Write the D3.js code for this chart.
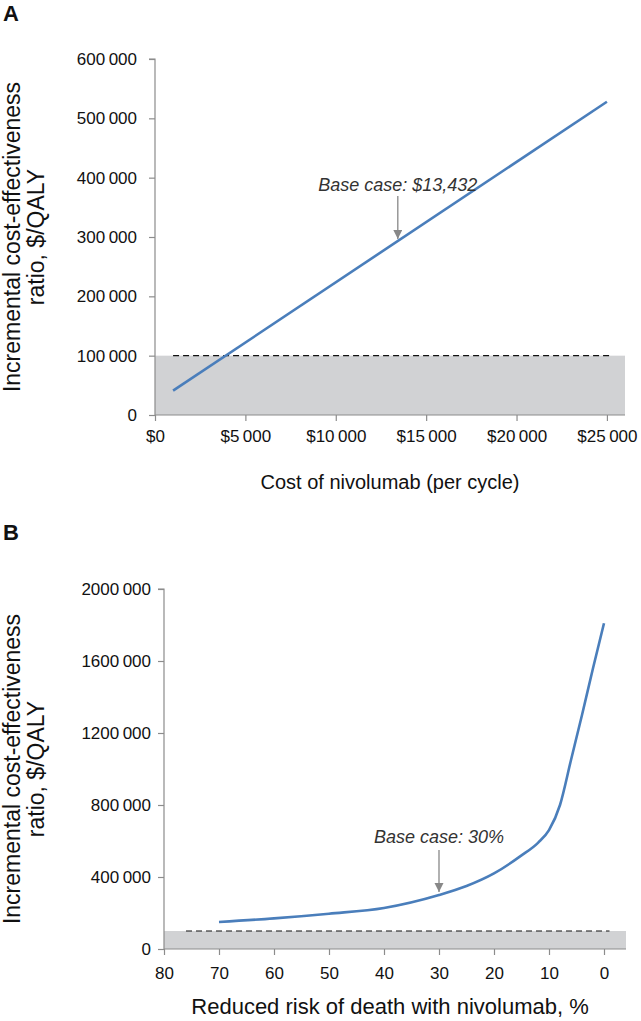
<!DOCTYPE html>
<html><head><meta charset="utf-8">
<script src="https://cdn.jsdelivr.net/npm/d3@7"></script>
<style>
body{margin:0;background:#fff}
svg{display:block;font-family:"Liberation Sans",Arial,sans-serif}
</style></head>
<body><svg id="c" width="641" height="1021"></svg>
<script>
// Panel A data
const costA = [1000, 25000];
const icerA = [41000, 528000];
const xTicksA = [0, 5000, 10000, 15000, 20000, 25000];
const yTicksA = [0, 100000, 200000, 300000, 400000, 500000, 600000];
const thresholdA = 100000;
const baseCaseA = 13432;
const baseLabelA = "Base case: $13,432";

// Panel B data
const riskB = [70, 60, 50, 40, 30, 25, 20, 15, 12, 10, 8, 6, 4, 2, 0];
const icerB = [150000, 170000, 196000, 228000, 300000, 350000, 420000, 520000, 590000, 660000, 800000, 1050000, 1300000, 1560000, 1810000];
const xTicksB = [80, 70, 60, 50, 40, 30, 20, 10, 0];
const yTicksB = [0, 400000, 800000, 1200000, 1600000, 2000000];
const thresholdB = 100000;
const baseCaseB = 30;
const baseLabelB = "Base case: 30%";

const svg = d3.select("#c");
const blue = "#4a7ebb", axisCol = "#8c8c8c", band = "#d1d2d4";

function fmtNum(v){
  if (v === 0) return "0";
  const s = String(v);
  return s.slice(0, s.length-3) + "\u2009" + s.slice(-3);
}

function panel(o){
  const g = svg.append("g");
  const x = d3.scaleLinear().domain(o.xDom).range(o.xRange);
  const y = d3.scaleLinear().domain(o.yDom).range(o.yRange);
  g.append("rect").attr("x", o.xRange[0]).attr("width", o.xRange[1]-o.xRange[0])
    .attr("y", y(o.thr)).attr("height", y(0)-y(o.thr)).attr("fill", band);
  g.append("line").attr("x1", x(o.dashFrom)).attr("x2", x(o.dashTo))
    .attr("y1", y(o.thr)).attr("y2", y(o.thr))
    .attr("stroke", "#111").attr("stroke-width", 1.2).attr("stroke-dasharray", "6,4");
  const ya = g.append("g").attr("transform", `translate(${o.xRange[0]},0)`)
    .call(d3.axisLeft(y).tickValues(o.yTicks).tickSize(6).tickPadding(o.yPad).tickFormat(fmtNum));
  const xa = g.append("g").attr("transform", `translate(0,${o.yRange[0]})`)
    .call(d3.axisBottom(x).tickValues(o.xTicks).tickSize(6).tickPadding(o.xPad).tickFormat(o.xFmt));
  [ya, xa].forEach(a => {
    a.select(".domain").attr("stroke", axisCol).attr("stroke-width", 1.2);
    a.selectAll(".tick line").attr("stroke", axisCol).attr("stroke-width", 1.2);
    a.selectAll(".tick text").attr("fill", "#111").style("font-size", "17px");
  });
  ya.select(".domain").attr("d", `M-6,${o.yRange[1]}H0V${o.yRange[0]}`);
  xa.select(".domain").attr("d", `M${o.xRange[0]},0H${o.xRange[1]}`);
  const line = d3.line().x((d,i)=>x(o.xs[i])).y((d,i)=>y(o.ys[i])).curve(o.curve);
  g.append("path").datum(o.xs).attr("d", line).attr("fill", "none")
    .attr("stroke", blue).attr("stroke-width", 2.6);
  const ax = x(o.base);
  g.append("defs").append("marker").attr("id", "ah"+o.id).attr("viewBox", "0 0 10 10")
    .attr("refX", 10).attr("refY", 5).attr("markerWidth", 7).attr("markerHeight", 7)
    .attr("orient", "auto").append("path").attr("d", "M0,0L10,5L0,10z").attr("fill", "#888");
  g.append("line").attr("x1", ax).attr("x2", ax).attr("y1", o.arrowFrom).attr("y2", o.arrowTo)
    .attr("stroke", "#888").attr("stroke-width", 1.3).attr("marker-end", `url(#ah${o.id})`);
  g.append("text").attr("x", ax).attr("y", o.labelY).attr("text-anchor", "middle")
    .attr("font-style", "italic").attr("font-size", 18).attr("fill", "#333").text(o.baseLabel);
  g.append("text").attr("x", 390).attr("y", o.xTitleY).attr("text-anchor", "middle")
    .attr("font-size", o.xTitleSize).attr("fill", "#111").text(o.xTitle);
  const my = (o.yRange[0]+o.yRange[1])/2;
  const yt = g.append("text").attr("transform", `translate(0,${my}) rotate(-90)`)
    .attr("text-anchor", "middle").attr("font-size", 23).attr("fill", "#111");
  yt.append("tspan").attr("x", 0).attr("y", 20).text("Incremental cost-effectiveness");
  yt.append("tspan").attr("x", 0).attr("y", 44).text("ratio, $/QALY");
  g.append("text").attr("x", 3).attr("y", o.letterY).attr("font-size", 22).attr("font-weight", "bold")
    .attr("fill", "#111").text(o.letter);
}

panel({id:"A", letter:"A", letterY:21, xDom:[0,26000], xRange:[155,625], yDom:[0,600000], yRange:[415,59],
  xs:costA, ys:icerA, curve:d3.curveLinear, thr:thresholdA, dashFrom:1000, dashTo:25200,
  xTicks:xTicksA, yTicks:yTicksA, xFmt:v => "$" + fmtNum(v), yPad:12, xPad:9,
  base:baseCaseA, baseLabel:baseLabelA, labelY:191, arrowFrom:196, arrowTo:239,
  xTitle:"Cost of nivolumab (per cycle)", xTitleY:489, xTitleSize:20});

panel({id:"B", letter:"B", letterY:540, xDom:[80,-4], xRange:[164,626], yDom:[0,2000000], yRange:[949,589],
  xs:riskB, ys:icerB, curve:d3.curveMonotoneX, thr:thresholdB, dashFrom:76, dashTo:-1,
  xTicks:xTicksB, yTicks:yTicksB, xFmt:v => String(v), yPad:7, xPad:12,
  base:baseCaseB, baseLabel:baseLabelB, labelY:843, arrowFrom:850, arrowTo:892,
  xTitle:"Reduced risk of death with nivolumab, %", xTitleY:1014, xTitleSize:22});
</script></body></html>
